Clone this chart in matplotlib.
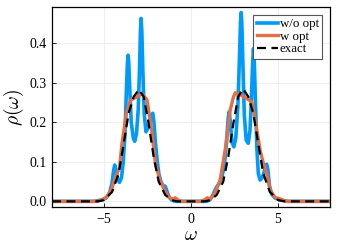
import matplotlib.pyplot as plt

plt.rcParams['font.family'] = ['Liberation Serif', 'DejaVu Serif']
plt.rcParams['mathtext.fontset'] = 'cm'

# w/o opt (blue)
w_blue = [-8.0, -5.6, -5.2, -4.9, -4.7, -4.55, -4.45, -4.39, -4.32, -4.22, -4.12, -4.0, -3.9, -3.8,
          -3.72, -3.66, -3.62, -3.58, -3.52, -3.44, -3.32, -3.24, -3.14, -3.04, -2.96, -2.91, -2.87,
          -2.83, -2.77, -2.69, -2.59, -2.48, -2.36, -2.27, -2.2, -2.13, -2.05, -1.95, -1.85, -1.72,
          -1.6, -1.48, -1.38, -1.25, -1.1, -0.9,
          0.9, 1.1, 1.25, 1.4, 1.5, 1.62, 1.78, 1.92, 2.05, 2.14, 2.2, 2.27, 2.36, 2.47, 2.58, 2.7,
          2.79, 2.85, 2.89, 2.93, 2.99, 3.07, 3.18, 3.3, 3.4, 3.48, 3.55, 3.6, 3.65, 3.72, 3.8, 3.88,
          3.98, 4.1, 4.22, 4.3, 4.36, 4.43, 4.52, 4.65, 4.85, 5.1, 5.3, 5.6, 8.0]
rho_blue = [0.0, 0.0, 0.003, 0.008, 0.02, 0.045, 0.08, 0.092, 0.08, 0.055, 0.048, 0.06, 0.10, 0.17,
            0.28, 0.35, 0.37, 0.35, 0.28, 0.2, 0.16, 0.152, 0.17, 0.23, 0.34, 0.43, 0.463,
            0.43, 0.33, 0.22, 0.176, 0.185, 0.2, 0.218, 0.223, 0.2, 0.15, 0.105, 0.07, 0.048,
            0.04, 0.038, 0.025, 0.01, 0.003, 0.0,
            0.0, 0.004, 0.015, 0.03, 0.038, 0.045, 0.062, 0.09, 0.15, 0.21, 0.227, 0.2, 0.15, 0.138,
            0.16, 0.24, 0.36, 0.45, 0.478, 0.45, 0.35, 0.22, 0.155, 0.147, 0.18, 0.26, 0.35, 0.387,
            0.35, 0.24, 0.13, 0.07, 0.054, 0.06, 0.075, 0.09, 0.094, 0.08, 0.04, 0.018, 0.008, 0.005,
            0.002, 0.0, 0.0]

# w opt (orange)
w_orange = [-8.0, -5.4, -5.1, -4.83, -4.54, -4.36, -4.25, -4.12, -3.97, -3.72, -3.49, -3.1, -2.82,
            -2.53, -2.24, -2.05, -1.76, -1.48, -1.2, -1.05, -0.9, -0.7, -0.5,
            0.5, 0.75, 0.94, 1.1, 1.3, 1.49, 1.68, 1.97, 2.26, 2.45, 2.55, 2.84, 3.22, 3.5, 3.7, 3.98,
            4.17, 4.36, 4.56, 4.84, 5.2, 5.5, 8.0]
rho_orange = [0.0, 0.0, 0.004, 0.012, 0.034, 0.06, 0.071, 0.085, 0.147, 0.223, 0.256, 0.265, 0.272,
              0.257, 0.172, 0.096, 0.05, 0.024, 0.008, 0.006, 0.009, 0.002, 0.0,
              0.0, 0.003, 0.009, 0.006, 0.015, 0.033, 0.054, 0.13, 0.231, 0.265, 0.275, 0.27, 0.26,
              0.252, 0.206, 0.13, 0.096, 0.071, 0.029, 0.01, 0.005, 0.0, 0.0]

# exact (black dashed)
w_exact = [-8.0, -5.4, -5.02, -4.54, -4.16, -3.87, -3.59, -3.3, -3.0, -2.72, -2.44, -2.15, -1.86,
           -1.48, -1.1, -0.8,
           0.8, 1.1, 1.48, 1.86, 2.15, 2.44, 2.72, 3.0, 3.3, 3.59, 3.87, 4.16, 4.54, 5.02, 5.4, 8.0]
rho_exact = [0.0, 0.0, 0.003, 0.024, 0.071, 0.147, 0.223, 0.265, 0.283, 0.265, 0.197, 0.113, 0.05,
             0.016, 0.003, 0.0,
             0.0, 0.003, 0.016, 0.05, 0.113, 0.197, 0.265, 0.285, 0.265, 0.223, 0.147, 0.071, 0.024,
             0.003, 0.0, 0.0]

fig, ax = plt.subplots(figsize=(3.38, 2.5), dpi=100)
fig.subplots_adjust(left=0.154, right=0.976, bottom=0.172, top=0.972)

ax.plot(w_blue, rho_blue, color='#009AFA', lw=2.6, label='w/o opt')
ax.plot(w_orange, rho_orange, color='#E26F46', lw=2.4, label='w opt')
ax.plot(w_exact, rho_exact, color='black', lw=1.6, ls=(0, (4, 2.5)), label='exact')

ax.set_xlim(-8, 8)
ax.set_ylim(-0.0143, 0.492)
ax.set_xticks([-5, 0, 5])
ax.set_yticks([0.0, 0.1, 0.2, 0.3, 0.4])
ax.set_xticklabels(['\u22125', '0', '5'])
ax.set_yticklabels(['0.0', '0.1', '0.2', '0.3', '0.4'])
ax.tick_params(direction='in', length=3, labelsize=10, width=0.6, pad=4)
ax.grid(True, color='#ebebeb', lw=0.6)
ax.set_axisbelow(True)
for s in ax.spines.values():
    s.set_linewidth(0.9)

ax.set_xlabel(r'$\omega$', fontsize=14, labelpad=1)
ax.set_ylabel(r'$\rho(\omega)$', fontsize=14, labelpad=2)

leg = ax.legend(loc='upper right', fontsize=9.3, handlelength=1.7, handletextpad=0.1,
                borderpad=0.25, labelspacing=0.05, fancybox=False, framealpha=1,
                borderaxespad=0.6)
leg.get_frame().set_edgecolor('#555555')
leg.get_frame().set_linewidth(0.8)

plt.savefig('out.png', dpi=100)
